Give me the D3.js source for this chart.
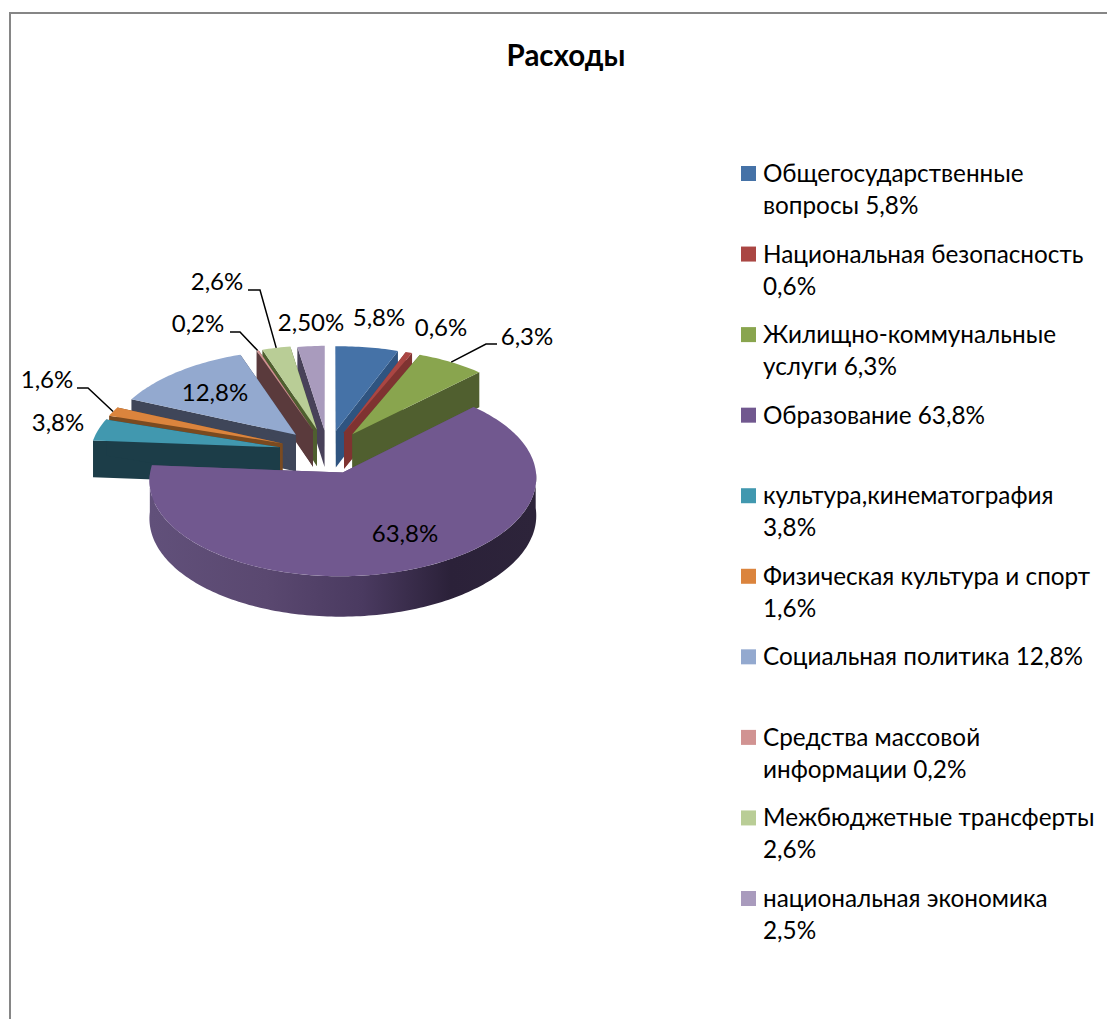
<!DOCTYPE html>
<html>
<head>
<meta charset="utf-8">
<script src="https://cdn.jsdelivr.net/npm/d3@7/dist/d3.min.js"></script>
<style>
  html, body { margin: 0; padding: 0; background: #fff; overflow: hidden; }
  text { font-family: Lato, "Noto Sans", sans-serif; fill: #000; }
</style>
</head>
<body>
<svg id="chart" width="1107" height="1019"></svg>
<script>
// chart data
const title = 'Расходы';
const categories = ['Общегосударственные вопросы', 'Национальная безопасность', 'Жилищно-коммунальные услуги', 'Образование', 'культура,кинематография', 'Физическая культура и спорт', 'Социальная политика', 'Средства массовой информации', 'Межбюджетные трансферты', 'национальная экономика'];
const values = [5.8, 0.6, 6.3, 63.8, 3.8, 1.6, 12.8, 0.2, 2.6, 2.5];
const valueLabels = ['5,8%', '0,6%', '6,3%', '63,8%', '3,8%', '1,6%', '12,8%', '0,2%', '2,6%', '2,50%'];
const legendLines = [
    ['Общегосударственные', 'вопросы 5,8%'],
    ['Национальная безопасность', '0,6%'],
    ['Жилищно-коммунальные', 'услуги 6,3%'],
    ['Образование 63,8%'],
    ['культура,кинематография', '3,8%'],
    ['Физическая культура и спорт', '1,6%'],
    ['Социальная политика 12,8%'],
    ['Средства массовой', 'информации 0,2%'],
    ['Межбюджетные трансферты', '2,6%'],
    ['национальная экономика', '2,5%']
];

// styles
const topColors = ['#4572a7', '#aa4643', '#89a54e', '#71588f', '#4198af', '#db843d', '#93a9cf', '#d19392', '#b9cd96', '#a99bbd'];
const wallColors = ['#2f5480', '#7f3331', '#505f2f', '#5d4a72', '#1c3d48', '#7a4a20', '#3f4659', '#5a3a3c', '#4f5f2f', '#484159'];
// how far each slice is pulled out of the pie, as a share of the radius
const explodeBy = [0.23, 0.23, 0.23, 0.23, 0.26, 0.26, 0.255, 0.25, 0.25, 0.235];

// hand placed labels: label centre, plus leader elbow where the label has one
const labelPlace = [
    {x: 379, y: 318}, {x: 441, y: 328}, {x: 527, y: 337, elbow: [[497, 344], [486, 344]]},
    {x: 405, y: 534}, {x: 58, y: 423}, {x: 47, y: 380, elbow: [[77, 388], [88, 388]]},
    {x: 215, y: 393}, {x: 198, y: 324, elbow: [[230, 332], [240, 332]]},
    {x: 217, y: 282, elbow: [[248, 290], [260, 290]]}, {x: 311, y: 323}
];

const svg = d3.select('#chart');
svg.append('path')
    .attr('d', 'M10,1019V13H1107')
    .attr('fill', 'none')
    .attr('stroke', '#868686')
    .attr('stroke-width', 2);

svg.append('text')
    .attr('x', 566).attr('y', 66)
    .attr('text-anchor', 'middle')
    .attr('font-size', 29.5).attr('font-weight', 700)
    .text(title);

// pie geometry: exploded disc seen in perspective, with a slight roll
const cx = 328, cy = 452, rx = 190, ry = 93.5, persp = 0.07, roll = 0.01, depth = 37;

const arcs = d3.pie().sort(null).value(d => d)(values);

function project (u, v) {
    let w = 1 - persp * v;
    let x = rx * u / w;
    return {x: cx + x, y: cy + ry * v / w - roll * x, d: depth / w};
}

// point of a slice, r = 0 at the apex and 1 on the rim
function slicePoint (a, r, theta) {
    let mid = (a.startAngle + a.endAngle) / 2;
    let e = explodeBy[a.index];
    return project(r * Math.sin(theta) + e * Math.sin(mid), -r * Math.cos(theta) - e * Math.cos(mid));
}

function arcPoints (a, from, to) {
    let n = Math.max(2, Math.ceil((to - from) / 0.02));
    return d3.range(n + 1).map(i => slicePoint(a, 1, from + (to - from) * i / n));
}

const toPath = pts => d3.line().x(p => p.x).y(p => p.y)(pts) + 'Z';
const sunk = pts => pts.map(p => ({x: p.x, y: p.y + p.d, d: p.d}));

const defs = svg.append('defs');
const shade = defs.append('linearGradient')
    .attr('id', 'rimShade').attr('gradientUnits', 'userSpaceOnUse')
    .attr('x1', 151).attr('x2', 535).attr('y1', 0).attr('y2', 0);
[[0, '#61507a'], [0.3, '#5a4870'], [0.55, '#4a3a60'], [0.78, '#2b2139'], [1, '#2d243a']].forEach(s => {
    shade.append('stop').attr('offset', s[0]).attr('stop-color', s[1]);
});

// painter's order: slices nearest the back first
const order = d3.range(arcs.length).sort((a, b) => {
    let m = i => Math.abs((arcs[i].startAngle + arcs[i].endAngle) / 2 - Math.PI);
    return m(b) - m(a);
});

const pieG = svg.append('g');
order.forEach(i => {
    let a = arcs[i];
    let g = pieG.append('g');
    let apex = slicePoint(a, 0, 0);

    // radial walls
    [a.startAngle, a.endAngle].forEach(t => {
        let edge = [apex, slicePoint(a, 1, t)];
        g.append('path')
            .attr('d', toPath(edge.concat(sunk(edge).reverse())))
            .attr('fill', wallColors[i]);
    });

    // rim wall, only the part that faces the viewer
    let from = Math.max(a.startAngle, Math.PI / 2), to = Math.min(a.endAngle, Math.PI * 1.5);
    if (to > from) {
        let rim = arcPoints(a, from, to);
        g.append('path')
            .attr('d', toPath(rim.concat(sunk(rim).reverse())))
            .attr('fill', 'url(#rimShade)');
    }

    g.append('path')
        .attr('d', toPath([apex].concat(arcPoints(a, a.startAngle, a.endAngle))))
        .attr('fill', topColors[i]);
});

// leaders and value labels
labelPlace.forEach((p, i) => {
    if (p.elbow) {
        let a = arcs[i];
        let end = slicePoint(a, 1, (a.startAngle + a.endAngle) / 2);
        svg.append('path')
            .attr('d', d3.line()(p.elbow.concat([[end.x, end.y]])))
            .attr('fill', 'none').attr('stroke', '#000').attr('stroke-width', 1.5);
    }
    svg.append('text')
        .attr('x', p.x).attr('y', p.y).attr('dy', '0.35em')
        .attr('text-anchor', 'middle')
        .attr('font-size', 24)
        .text(valueLabels[i]);
});

// legend
const legendY = d3.scaleLinear().domain([0, 9]).range([166, 891]);
const legend = svg.append('g').selectAll('g').data(categories).join('g')
    .attr('transform', (d, i) => `translate(741,${legendY(i)})`);
legend.append('rect')
    .attr('width', 15).attr('height', 15)
    .attr('fill', (d, i) => topColors[i]);
legend.each(function (d, i) {
    d3.select(this).selectAll('text').data(legendLines[i]).join('text')
        .attr('x', 22)
        .attr('y', (l, k) => 16 + k * 32)
        .attr('font-size', 24.3)
        .text(l => l);
});
</script>
</body>
</html>
